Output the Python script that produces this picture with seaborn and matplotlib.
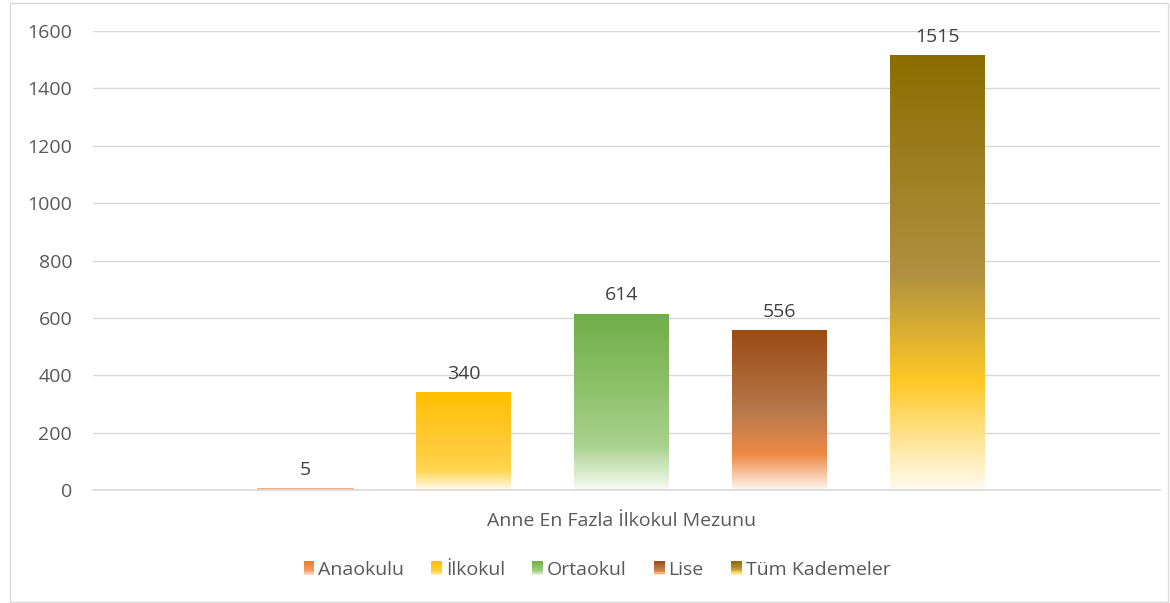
import numpy as np
import pandas as pd
import matplotlib
matplotlib.use("Agg")
import matplotlib.pyplot as plt
import seaborn as sns
from matplotlib.colors import LinearSegmentedColormap
from matplotlib.patches import Rectangle
from matplotlib.legend_handler import HandlerBase

# --- data ---
category = ["Anne En Fazla İlkokul Mezunu"]
series = ["Anaokulu", "İlkokul", "Ortaokul", "Lise", "Tüm Kademeler"]
values = [5, 340, 614, 556, 1515]

# gradient stops (position from bottom of bar, colour)
gradients = {
    "Anaokulu": [(0.0, "#FCE6D6"), (0.3, "#F4A06A"), (1.0, "#ED7D31")],
    "İlkokul": [(0.0, "#FFFBF0"), (0.2, "#FFD54F"), (0.5, "#FFC933"), (1.0, "#FFC000")],
    "Ortaokul": [(0.0, "#F7FBF4"), (0.25, "#A9D18E"), (0.6, "#8CC068"), (1.0, "#70AD47")],
    "Lise": [(0.0, "#FFF6F0"), (0.22, "#EE8A45"), (0.5, "#B6784C"), (1.0, "#9C4A12")],
    "Tüm Kademeler": [(0.0, "#FFFBF0"), (0.25, "#FFC825"), (0.5, "#AE9040"), (1.0, "#8C6D00")],
}
cmaps = {k: LinearSegmentedColormap.from_list(k, v) for k, v in gradients.items()}

df = pd.DataFrame({"grup": category * len(series), "kademe": series, "deger": values})

sns.set_style("white")
plt.rcParams["font.family"] = ["Open Sans", "DejaVu Sans"]
fs = 14

fig = plt.figure(figsize=(11.7, 6.03), dpi=100)
ax = fig.add_axes([93 / 1170, 1 - 490 / 603, (1160 - 93) / 1170, (490 - 31) / 603])

sns.barplot(data=df, x="grup", y="deger", hue="kademe", hue_order=series,
            palette=[gradients[s][-1][1] for s in series],
            width=0.8, gap=0.4, legend=False, ax=ax)

# replace flat fills by vertical gradients
grad = np.linspace(0, 1, 256).reshape(-1, 1)
for name, cont in zip(series, ax.containers):
    for bar in cont:
        x, y = bar.get_x(), bar.get_y()
        w, h = bar.get_width(), bar.get_height()
        im = ax.imshow(grad, cmap=cmaps[name], origin="lower", aspect="auto",
                       extent=[x, x + w, y, y + h], zorder=bar.get_zorder())
        im.set_clip_path(bar)
        bar.set_facecolor("none")
        if name == "Anaokulu":
            bar.set_edgecolor("#EDA06A")
            bar.set_linewidth(1.2)
        else:
            bar.set_edgecolor("none")
    ax.bar_label(cont, padding=7, fontsize=fs, color="#404040")

ax.set_xlim(-0.535, 0.545)
ax.set_ylim(0, 1600)
ax.set_yticks(range(0, 1601, 200))
ax.yaxis.grid(True, color="#D9D9D9", linewidth=1)
ax.set_axisbelow(True)
for s in ["top", "right", "left"]:
    ax.spines[s].set_visible(False)
ax.spines["bottom"].set_color("#D9D9D9")
ax.spines["bottom"].set_linewidth(1.2)
ax.tick_params(axis="both", length=0, labelsize=fs, labelcolor="#595959")
ax.tick_params(axis="y", pad=15)
ax.tick_params(axis="x", pad=16)
ax.set_xlabel("")
ax.set_ylabel("")


class GradientHandler(HandlerBase):
    def create_artists(self, legend, orig_handle, xdescent, ydescent, width, height, fontsize, trans):
        cmap = cmaps[orig_handle.get_label()]
        n = 10
        arts = []
        for i in range(n):
            r = Rectangle((-xdescent, -ydescent + height * i / n), width, height / n + 0.2,
                          facecolor=cmap((i + 0.5) / n), edgecolor="none", transform=trans)
            arts.append(r)
        return arts


handles = [Rectangle((0, 0), 1, 1, label=s) for s in series]
fig.legend(handles=handles, labels=series, handler_map={Rectangle: GradientHandler()},
           loc="center", bbox_to_anchor=(597 / 1170, 1 - 570 / 603), ncol=5, frameon=False,
           fontsize=fs, labelcolor="#595959", handlelength=0.55, handleheight=0.75,
           handletextpad=0.2, columnspacing=1.4)

fig.patches.append(Rectangle((10 / 1170, 1 / 603), 1158 / 1170, 599 / 603, transform=fig.transFigure,
                             fill=False, edgecolor="#D9D9D9", linewidth=1))

fig.savefig("out.png", dpi=100)
